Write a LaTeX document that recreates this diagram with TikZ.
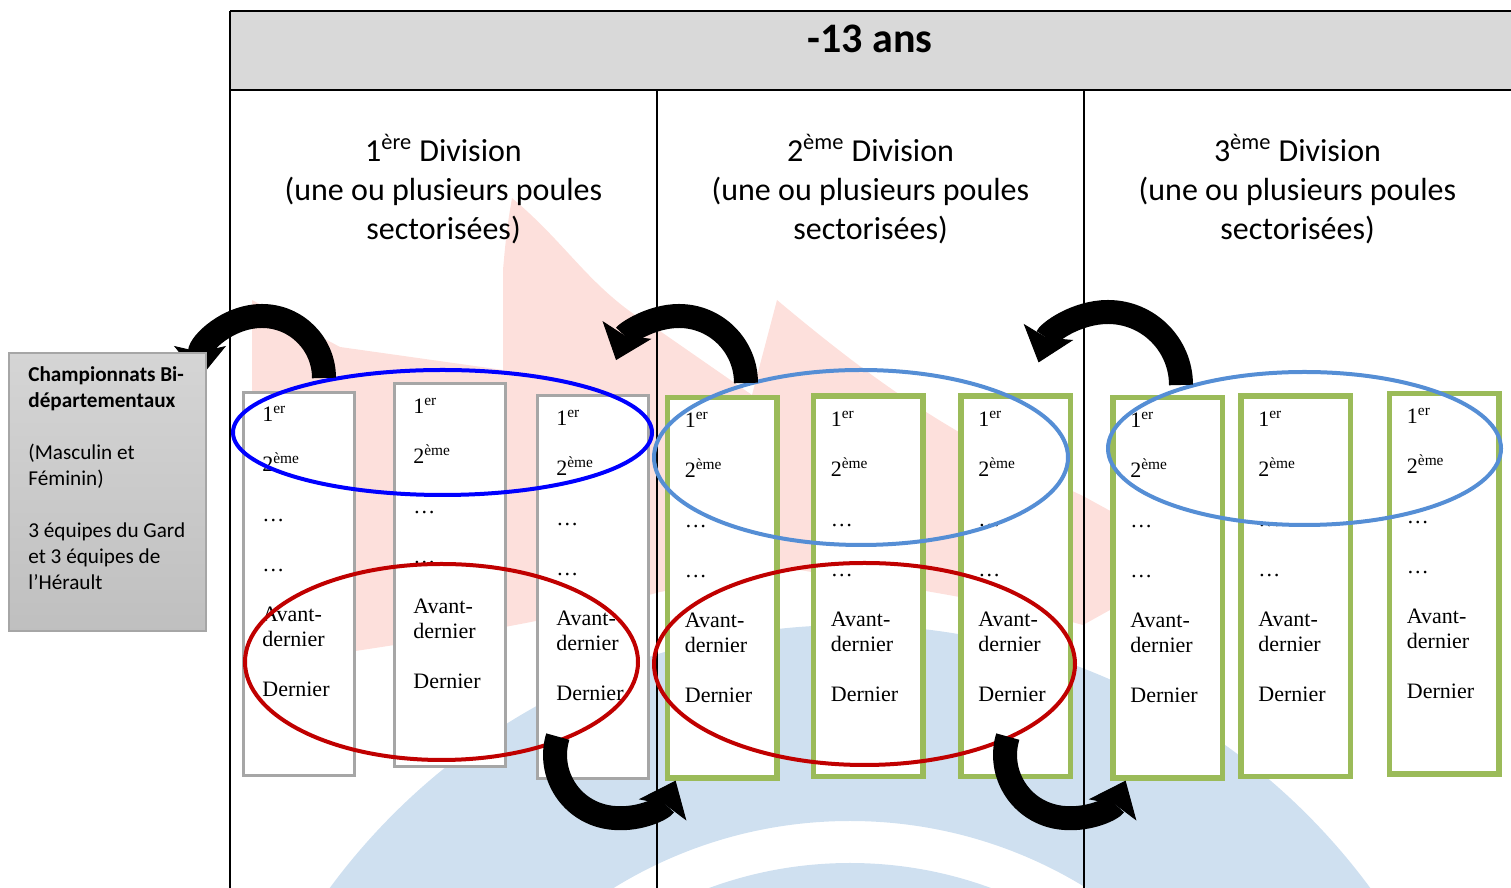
\documentclass[tikz,border=0pt]{standalone}
\usepackage{fontspec}
\setmainfont{Liberation Serif}
\newfontfamily\calibri{Carlito}
\newfontfamily\romain{Liberation Serif}
\usetikzlibrary{shapes.geometric,arrows.meta,positioning}
\definecolor{gristete}{RGB}{217,217,217}
\definecolor{griscadre}{RGB}{166,166,166}
\definecolor{vert}{RGB}{155,187,89}
\definecolor{bleuciel}{RGB}{85,142,213}
\definecolor{rouge}{RGB}{192,0,0}
\definecolor{rose}{RGB}{253,224,220}
\definecolor{bleupale}{RGB}{207,224,240}
\newcommand{\rangs}{1\textsuperscript{er}\\[12.5pt]2\textsuperscript{ème}\\[12.5pt]…\\[12.5pt]…\\[12.5pt]Avant-\\dernier\\[12.5pt]Dernier}

\begin{document}
\begin{tikzpicture}[x=0.5pt,y=0.5pt,
  poulegris/.style={draw=griscadre,line width=1.5pt,fill=white,minimum width=55.5pt,minimum height=191.5pt,inner sep=0pt},
  poulevert/.style={draw=vert,line width=2.75pt,fill=white,minimum width=54.75pt,minimum height=190.25pt,inner sep=0pt},
  liste/.style={inner sep=0pt,align=left,font=\romain\fontsize{11}{12.5}\selectfont},
  ovale/.style={ellipse,line width=2pt,inner sep=0pt},
  fleche/.style={line width=12pt,-{Stealth[length=16pt,width=26pt,inset=3pt,line width=0.5pt]}},
  division/.style={align=center,font=\calibri\fontsize{16}{19.5}\selectfont}]
\useasboundingbox (0,0) rectangle (1511,888);
% filigrane
\begin{scope}
\clip (230,0) rectangle (1511,798);
\fill[bleupale,even odd rule] (850,-383) circle[radius=323pt] (850,-383) circle[radius=225pt];
\fill[bleupale,even odd rule] (850,-383) circle[radius=204pt] (850,-383) circle[radius=180pt];
\fill[rose] (252,588) -- (340,541) -- (503,518) -- (503,618) to[out=85,in=-100] (512,690)
  to[out=-40,in=150] (657,559) -- (752,493) -- (777,588) to[out=-40,in=155] (1083,392)
  -- (1200,328) -- (1083,263) to[out=165,in=-10] (800,318) to[out=185,in=10] (660,296)
  to[out=195,in=10] (252,220) -- cycle;
\end{scope}
% tableau
\fill[gristete] (230,798) rectangle (1511,877);
\draw[line width=1.2pt] (230,877) -- (1511,877);
\draw[line width=1pt] (230,798) -- (1511,798);
\draw[line width=1pt] (230,877) -- (230,0);
\draw[line width=1pt] (657,798) -- (657,0);
\draw[line width=1pt] (1084,798) -- (1084,0);
\draw (870,849) node[font=\calibri\bfseries\fontsize{21}{25}\selectfont](age) {-13 ans};
\draw (443.5,699) node[division](div1) {1\textsuperscript{ère} Division\\(une ou plusieurs poules\\sectorisées)};
\draw (870.5,699) node[division](div2) {2\textsuperscript{ème} Division\\(une ou plusieurs poules\\sectorisées)};
\draw (1297.5,699) node[division](div3) {3\textsuperscript{ème} Division\\(une ou plusieurs poules\\sectorisées)};
% poules
\draw (299,304) node[poulegris](p11) {};
\draw (450,312.5) node[poulegris](p12) {};
\draw (593,300.5) node[poulegris](p13) {};
\draw (722,300) node[poulevert](p21) {};
\draw (868,301.5) node[poulevert](p22) {};
\draw (1015.5,301.5) node[poulevert](p23) {};
\draw (1167.5,300) node[poulevert](p31) {};
\draw (1295.5,301.5) node[poulevert](p32) {};
\draw (1444,304) node[poulevert](p33) {};
\node[liste,below right=7.5pt and 10pt of p11.north west](r11) {\rangs};
\node[liste,below right=7.5pt and 10pt of p12.north west](r12) {\rangs};
\node[liste,below right=7.5pt and 10pt of p13.north west](r13) {\rangs};
\node[liste,below right=8.5pt and 10pt of p21.north west](r21) {\rangs};
\node[liste,below right=8.5pt and 10pt of p22.north west](r22) {\rangs};
\node[liste,below right=8.5pt and 10pt of p23.north west](r23) {\rangs};
\node[liste,below right=8.5pt and 10pt of p31.north west](r31) {\rangs};
\node[liste,below right=8.5pt and 10pt of p32.north west](r32) {\rangs};
\node[liste,below right=8.5pt and 10pt of p33.north west](r33) {\rangs};
% ovales
\draw (442.5,455.5) node[ovale,draw=blue,minimum width=209.5pt,minimum height=62.5pt](haut1) {};
\draw (441.5,226) node[ovale,draw=rouge,minimum width=196.5pt,minimum height=98pt](bas1) {};
\draw (861,430.5) node[ovale,draw=bleuciel,minimum width=207pt,minimum height=87.5pt](haut2) {};
\draw (864.5,224) node[ovale,draw=rouge,minimum width=210.5pt,minimum height=101pt](bas2) {};
\draw (1304.5,439.5) node[ovale,draw=bleuciel,minimum width=196.5pt,minimum height=76.5pt](haut3) {};
% fleches
\coordinate (m1) at (324,510);
\coordinate (m2) at (746,505);
\coordinate (m3) at (1181,503);
\coordinate (d1) at (557.8,151.4);
\coordinate (d2) at (1007.8,151.4);
\draw[fleche] (m1) arc[start angle=0,end angle=180,radius=31pt];
\draw[fleche] (m2) arc[start angle=0,end angle=160,radius=33.5pt];
\draw[fleche] (m3) arc[start angle=0,end angle=162,radius=36.5pt];
\draw[fleche] (d1) arc[start angle=163,end angle=336,radius=31.5pt];
\draw[fleche] (d2) arc[start angle=163,end angle=336,radius=31.5pt];
% championnat
\draw (107.5,396) node[draw=griscadre,line width=1pt,top color=gray!33,bottom color=gray!50,minimum width=98.5pt,minimum height=139pt](champ) {};
\node[anchor=north west,inner sep=0pt,align=left,font=\calibri\fontsize{10.6}{13}\selectfont](champtxt) at (28,522) {\textbf{Championnats Bi-}\\\textbf{départementaux}\\[13pt](Masculin et\\Féminin)\\[13pt]3 équipes du Gard\\et 3 équipes de\\l’Hérault};
\end{tikzpicture}
\end{document}
